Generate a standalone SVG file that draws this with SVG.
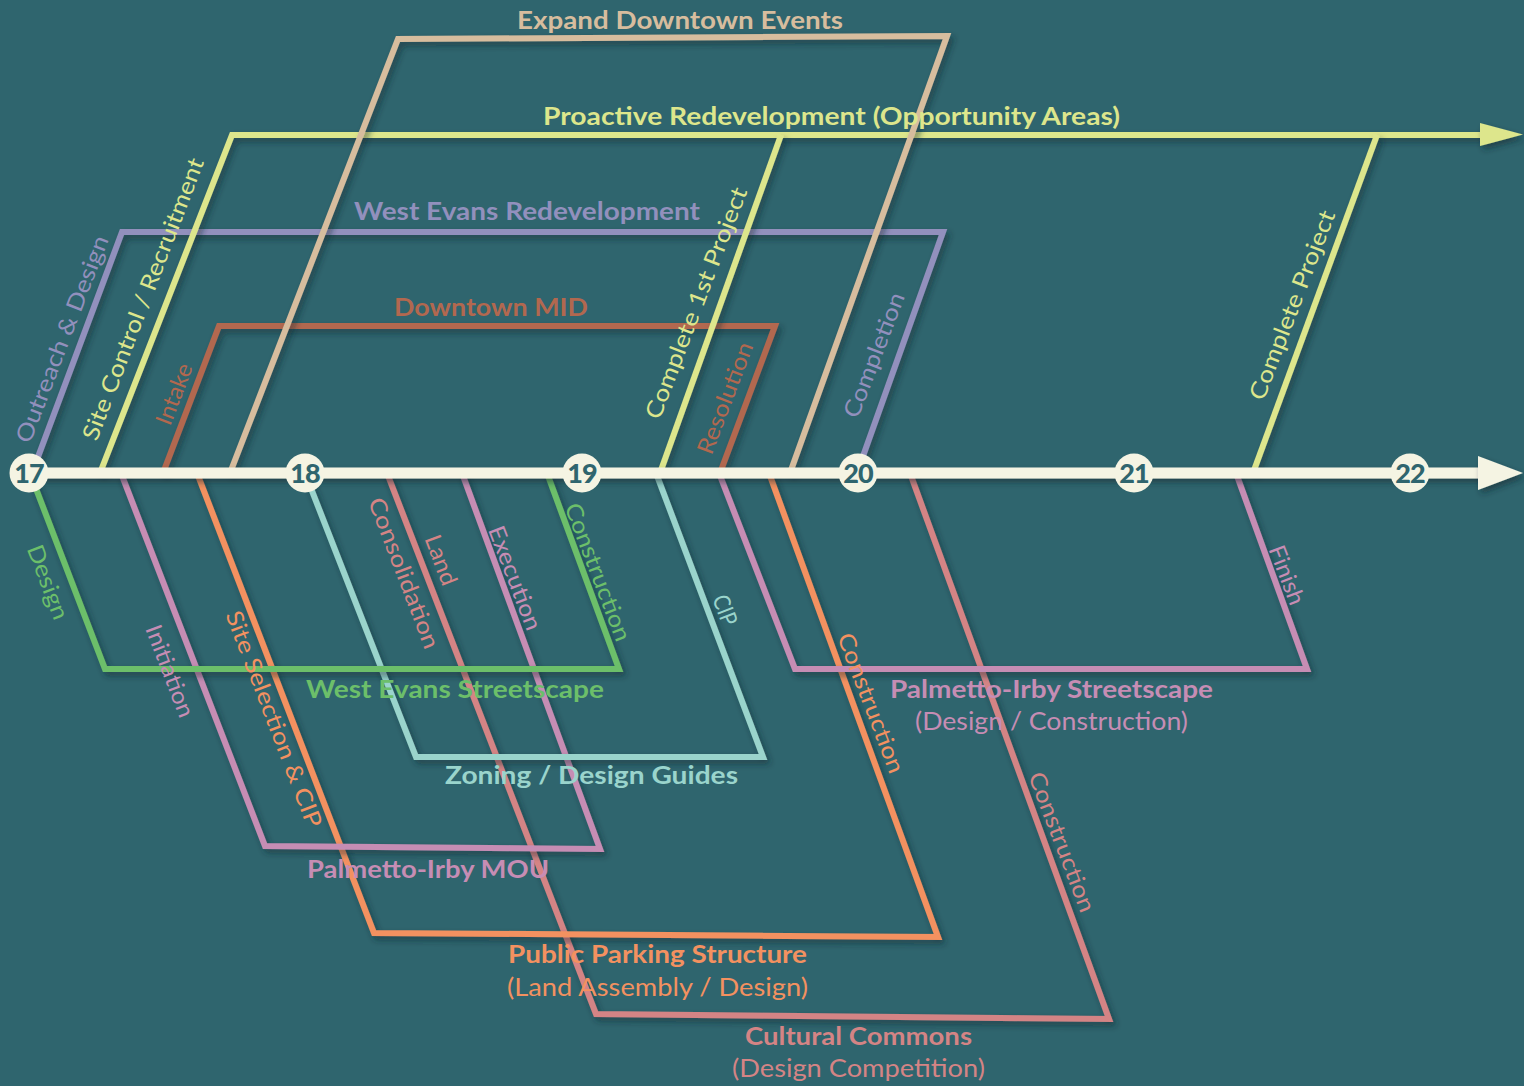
<svg xmlns="http://www.w3.org/2000/svg" width="1524" height="1086" viewBox="0 0 1524 1086">
<defs>
<filter id="sh" filterUnits="userSpaceOnUse" x="0" y="0" width="1524" height="1086">
<feDropShadow dx="3" dy="4" stdDeviation="3" flood-color="#0b2a30" flood-opacity="0.55"/>
</filter>
<style>
.ln{fill:none;stroke-width:6;stroke-linejoin:miter;filter:url(#sh)}
.t{font-family:Lato,"Noto Sans","Liberation Sans",sans-serif;text-anchor:middle}
.b{font-size:25px;font-weight:700}
.s{font-size:25px;font-weight:400}
.r{font-size:23px;font-weight:400}
.yr{font-family:Lato,"Noto Sans","Liberation Sans",sans-serif;font-size:27px;font-weight:900;fill:#2f656e;text-anchor:middle;letter-spacing:-1px}
.tan{stroke:#d7bd9e}.ctan{fill:#d7bd9e}
.yel{stroke:#dde68c}.cyel{fill:#dde68c}
.lav{stroke:#9290bd}.clav{fill:#9290bd}
.rus{stroke:#b2684f}.crus{fill:#b2684f}
.grn{stroke:#6cbf6a}.cgrn{fill:#6cbf6a}
.pnk{stroke:#c68db4}.cpnk{fill:#c68db4}
.org{stroke:#f39160}.corg{fill:#f39160}
.tea{stroke:#9ad4cc}.ctea{fill:#9ad4cc}
.sal{stroke:#d48485}.csal{fill:#d48485}
</style>
</defs>
<rect x="0" y="0" width="1524" height="1086" fill="#2f656e"/>

<g id="west-evans-redevelopment">
<polyline class="ln lav" points="32,473 122,232 943,232 857,473"/>
</g>
<g id="downtown-mid">
<polyline class="ln rus" points="163,473 219,326 775,326 720,473"/>
</g>
<g id="proactive-redevelopment">
<polyline class="ln yel" points="100,473 232,135 1482,135"/>
<polygon class="cyel" points="1480,123 1523,134.5 1480,146" filter="url(#sh)"/>
<line class="ln yel" x1="660" y1="473" x2="781" y2="135"/>
<line class="ln yel" x1="1253" y1="473" x2="1377" y2="135"/>
</g>
<g id="expand-downtown-events">
<polyline class="ln tan" points="230,473 398,39 947,36 790,473"/>
</g>
<g id="cultural-commons">
<polyline class="ln sal" points="387,473 596,1014 1109,1019 910,473"/>
</g>
<g id="public-parking-structure">
<polyline class="ln org" points="197,473 374,933 938,937 769,473"/>
</g>
<g id="palmetto-irby-mou">
<polyline class="ln pnk" points="121,473 265,846 600,849 462,473"/>
</g>
<g id="zoning-design-guides">
<polyline class="ln tea" points="305,473 416,757 763,757 656,473"/>
</g>
<g id="west-evans-streetscape">
<polyline class="ln grn" points="30,473 105,669 619,669 547,473"/>
</g>
<g id="palmetto-irby-streetscape">
<polyline class="ln pnk" points="719,473 795,669 1307,669 1236,473"/>
</g>

<g id="connectors">
<rect x="28" y="467.5" width="1454" height="11" fill="#f5f4e3" filter="url(#sh)"/>
<polygon points="1478,456 1523,473 1478,490" fill="#f5f4e3" filter="url(#sh)"/>
</g>

<g id="years">
<circle cx="29" cy="473" r="19.5" fill="#f5f4e3"/>
<text class="yr" x="29" y="483">17</text>
<circle cx="305" cy="473" r="19.5" fill="#f5f4e3"/>
<text class="yr" x="305" y="483">18</text>
<circle cx="582" cy="473" r="19.5" fill="#f5f4e3"/>
<text class="yr" x="582" y="483">19</text>
<circle cx="858" cy="473" r="19.5" fill="#f5f4e3"/>
<text class="yr" x="858" y="483">20</text>
<circle cx="1134" cy="473" r="19.5" fill="#f5f4e3"/>
<text class="yr" x="1134" y="483">21</text>
<circle cx="1410" cy="473" r="19.5" fill="#f5f4e3"/>
<text class="yr" x="1410" y="483">22</text>
</g>

<g id="west-evans-redevelopment-labels">
<text class="t b clav" x="527" y="220" textLength="346" lengthAdjust="spacingAndGlyphs">West Evans Redevelopment</text>
<text class="t r clav" transform="translate(62,339) rotate(-69)" dy="0.35em" textLength="220" lengthAdjust="spacingAndGlyphs">Outreach &amp; Design</text>
<text class="t r clav" transform="translate(874,355) rotate(-69)" dy="0.35em" textLength="132" lengthAdjust="spacingAndGlyphs">Completion</text>
</g>
<g id="downtown-mid-labels">
<text class="t b crus" x="491" y="316" textLength="194" lengthAdjust="spacingAndGlyphs">Downtown MID</text>
<text class="t r crus" transform="translate(174,394) rotate(-69)" dy="0.35em" textLength="64" lengthAdjust="spacingAndGlyphs">Intake</text>
<text class="t r crus" transform="translate(725,398) rotate(-69)" dy="0.35em" textLength="118" lengthAdjust="spacingAndGlyphs">Resolution</text>
</g>
<g id="proactive-redevelopment-labels">
<text class="t b cyel" x="831.5" y="125" textLength="577" lengthAdjust="spacingAndGlyphs">Proactive Redevelopment (Opportunity Areas)</text>
<text class="t r cyel" transform="translate(143,299) rotate(-69)" dy="0.35em" textLength="300" lengthAdjust="spacingAndGlyphs">Site Control / Recruitment</text>
<text class="t r cyel" transform="translate(696,303) rotate(-69)" dy="0.35em" textLength="246" lengthAdjust="spacingAndGlyphs">Complete 1st Project</text>
<text class="t r cyel" transform="translate(1292,305) rotate(-69)" dy="0.35em" textLength="201" lengthAdjust="spacingAndGlyphs">Complete Project</text>
</g>
<g id="expand-downtown-events-labels">
<text class="t b ctan" x="680" y="29" textLength="326" lengthAdjust="spacingAndGlyphs">Expand Downtown Events</text>
</g>
<g id="cultural-commons-labels">
<text class="t b csal" x="858.5" y="1045" textLength="227" lengthAdjust="spacingAndGlyphs">Cultural Commons</text>
<text class="t s csal" x="858.5" y="1077" textLength="253" lengthAdjust="spacingAndGlyphs">(Design Competition)</text>
<text class="t r csal" transform="translate(441,560) rotate(69)" dy="0.35em" textLength="52" lengthAdjust="spacingAndGlyphs">Land</text>
<text class="t r csal" transform="translate(404,573) rotate(69)" dy="0.35em" textLength="160" lengthAdjust="spacingAndGlyphs">Consolidation</text>
<text class="t r csal" transform="translate(1062,842) rotate(69)" dy="0.35em" textLength="148" lengthAdjust="spacingAndGlyphs">Construction</text>
</g>
<g id="public-parking-structure-labels">
<text class="t b corg" x="657.5" y="963" textLength="299" lengthAdjust="spacingAndGlyphs">Public Parking Structure</text>
<text class="t s corg" x="657.5" y="996" textLength="301" lengthAdjust="spacingAndGlyphs">(Land Assembly / Design)</text>
<text class="t r corg" transform="translate(274,719) rotate(69)" dy="0.35em" textLength="230" lengthAdjust="spacingAndGlyphs">Site Selection &amp; CIP</text>
<text class="t r corg" transform="translate(871,703) rotate(69)" dy="0.35em" textLength="148" lengthAdjust="spacingAndGlyphs">Construction</text>
</g>
<g id="palmetto-irby-mou-labels">
<text class="t b cpnk" x="428" y="878" textLength="242" lengthAdjust="spacingAndGlyphs">Palmetto-Irby MOU</text>
<text class="t r cpnk" transform="translate(170,671) rotate(69)" dy="0.35em" textLength="97" lengthAdjust="spacingAndGlyphs">Initiation</text>
<text class="t r cpnk" transform="translate(515,578) rotate(69)" dy="0.35em" textLength="110" lengthAdjust="spacingAndGlyphs">Execution</text>
</g>
<g id="zoning-design-guides-labels">
<text class="t b ctea" x="591.5" y="784" textLength="293" lengthAdjust="spacingAndGlyphs">Zoning / Design Guides</text>
<text class="t r ctea" transform="translate(725,610) rotate(69)" dy="0.35em" textLength="31" lengthAdjust="spacingAndGlyphs">CIP</text>
</g>
<g id="west-evans-streetscape-labels">
<text class="t b cgrn" x="455" y="698" textLength="298" lengthAdjust="spacingAndGlyphs">West Evans Streetscape</text>
<text class="t r cgrn" transform="translate(48,582) rotate(69)" dy="0.35em" textLength="78" lengthAdjust="spacingAndGlyphs">Design</text>
<text class="t r cgrn" transform="translate(598,572) rotate(69)" dy="0.35em" textLength="146" lengthAdjust="spacingAndGlyphs">Construction</text>
</g>
<g id="palmetto-irby-streetscape-labels">
<text class="t b cpnk" x="1051.5" y="698" textLength="323" lengthAdjust="spacingAndGlyphs">Palmetto-Irby Streetscape</text>
<text class="t s cpnk" x="1051.5" y="730" textLength="273" lengthAdjust="spacingAndGlyphs">(Design / Construction)</text>
<text class="t r cpnk" transform="translate(1287,575) rotate(69)" dy="0.35em" textLength="62" lengthAdjust="spacingAndGlyphs">Finish</text>
</g>
</svg>
